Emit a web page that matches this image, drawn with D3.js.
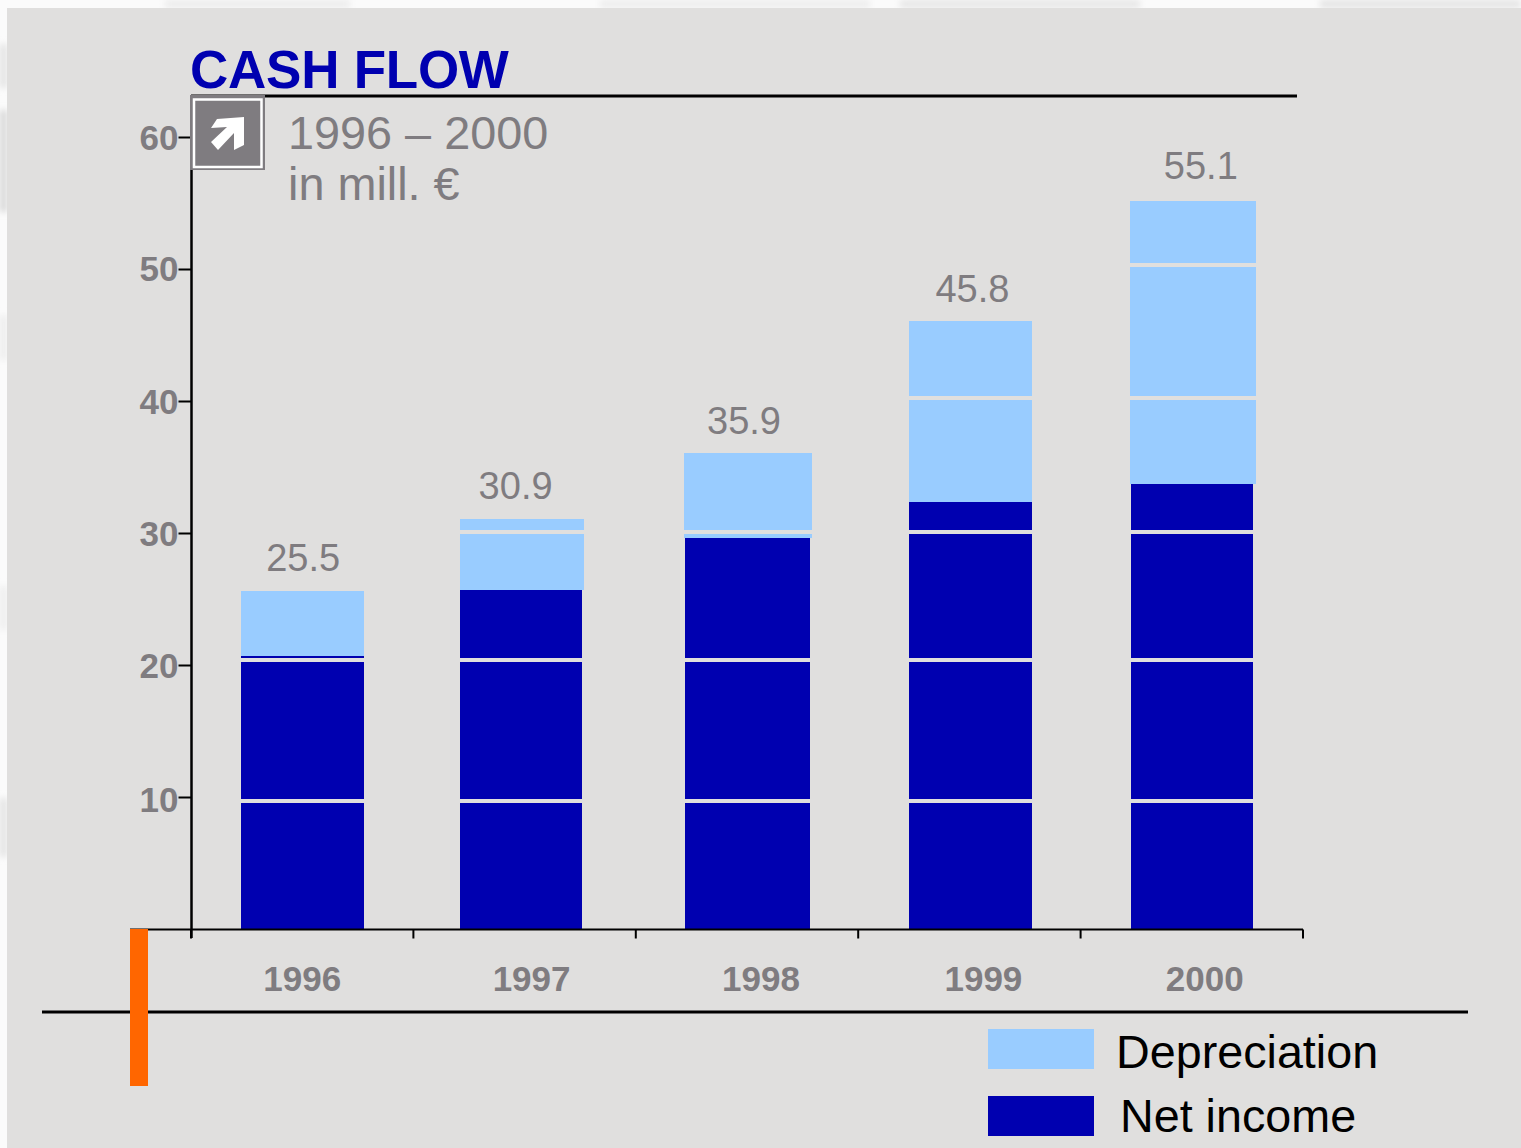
<!DOCTYPE html>
<html><head><meta charset="utf-8">
<script src="https://cdn.jsdelivr.net/npm/d3@7/dist/d3.min.js"></script>
<style>html,body{margin:0;padding:0;background:#fbfbfb;overflow:hidden}svg{display:block}text{font-family:"Liberation Sans",Arial,sans-serif}</style>
</head><body><div id="chart"></div>
<script>
const years = ["1996","1997","1998","1999","2000"];
const netIncome = [20.7,25.7,29.6,32.35,33.7];
const depreciation = [4.9,5.35,6.45,13.7,21.45];
const totalLabels = ["25.5","30.9","35.9","45.8","55.1"];
const yTicks = [10,20,30,40,50,60];
const bandLines = [9.7,20.4,30.05,40.2,50.3];
const subtitleLines = ["1996 – 2000","in mill. €"];
const seriesNames = ["Depreciation","Net income"];

// per-category layout nudges of the original artwork
const barShift = [0,-3,-1,1,1], netR = [0,-1,2,0,-1], lightL = [0,0,-1,0,-1], lightR = [0,1,4,0,2];
const valueDx = [1,-9,-3,3,9], yearDx = [0,7,14,14,13], valueGap = [20,20,19.5,19,22];
const yLabelDy = [2,0,0,0,-1,0];

const W=1521,H=1148, GREY="#7f7c80", NAVY="#0000b0", LIGHT="#99ccff", PANEL="#e0dfde";
const svg=d3.select("#chart").append("svg").attr("width",W).attr("height",H);

// faint marbled backdrop showing in the margins
const blur=svg.append("defs").append("filter").attr("id","soft").attr("x","-50%").attr("y","-50%").attr("width","200%").attr("height","200%");
blur.append("feGaussianBlur").attr("stdDeviation",3);
const blotches=[[0,44,7,44,"#e2e2e2"],[0,110,7,102,"#d6d6d6"],[0,315,7,45,"#ececec"],[0,586,7,44,"#ededed"],[0,798,7,59,"#e2e2e2"],
 [165,0,185,8,"#ececec"],[600,0,270,8,"#ededed"],[900,0,240,8,"#e6e6e6"],[1320,0,201,8,"#e4e4e4"]];
svg.append("g").attr("filter","url(#soft)").selectAll("rect").data(blotches).join("rect")
 .attr("x",d=>d[0]).attr("y",d=>d[1]).attr("width",d=>d[2]).attr("height",d=>d[3]).attr("fill",d=>d[4]);
svg.append("rect").attr("x",7).attr("y",8).attr("width",W-7).attr("height",H-8).attr("fill",PANEL);

const x=d3.scaleBand().domain(years).range([191,1303]).paddingInner(0.447).paddingOuter(0.2235);
const y=d3.scaleLinear().domain([0,60]).range([929,137]);
const bx=yr=>Math.round(x(yr)), bw=Math.round(x.bandwidth());

// bars
const rows=years.map((yr,i)=>({yr,i,net:netIncome[i],dep:depreciation[i]}));
const g=svg.append("g");
g.selectAll(".dep").data(rows).join("rect").attr("class","dep")
 .attr("x",d=>bx(d.yr)+barShift[d.i]+lightL[d.i])
 .attr("width",d=>bw-lightL[d.i]+lightR[d.i])
 .attr("y",d=>Math.round(y(d.net+d.dep))).attr("height",d=>Math.round(y(d.net))-Math.round(y(d.net+d.dep))).attr("fill",LIGHT);
g.selectAll(".net").data(rows).join("rect").attr("class","net")
 .attr("x",d=>bx(d.yr)+barShift[d.i]).attr("width",d=>bw+netR[d.i])
 .attr("y",d=>Math.round(y(d.net))).attr("height",d=>y(0)-Math.round(y(d.net))).attr("fill",NAVY);
// panel-coloured bands across the bars
rows.forEach(d=>{
  const top=d.net+d.dep;
  g.selectAll(null).data(bandLines.filter(v=>v<top)).join("rect")
   .attr("x",bx(d.yr)+barShift[d.i]+lightL[d.i]).attr("width",bw-lightL[d.i]+lightR[d.i])
   .attr("y",v=>Math.round(y(v))-2).attr("height",4).attr("fill",PANEL);
});
// value labels
svg.selectAll(".val").data(rows).join("text").attr("class","val")
 .attr("x",d=>x(d.yr)+x.bandwidth()/2+valueDx[d.i]).attr("y",d=>y(d.net+d.dep)-valueGap[d.i])
 .attr("text-anchor","middle").attr("font-size",38).attr("fill",GREY).text(d=>totalLabels[d.i]);

// axes
const yAxis=d3.axisLeft(y).tickValues(yTicks).tickSize(13).tickPadding(0).tickFormat(d3.format("d"));
const yG=svg.append("g").attr("transform","translate(191.5,0)").call(yAxis);
yG.select(".domain").remove();
yG.selectAll("line").attr("stroke","#000").attr("stroke-width",2);
yG.selectAll("text").attr("font-size",35).attr("font-weight","bold").attr("fill",GREY)
  .attr("dy","0.35em").attr("y",(d,i)=>yLabelDy[i]).attr("font-family",'"Liberation Sans"');
svg.append("line").attr("x1",191.5).attr("x2",191.5).attr("y1",y(60)-41).attr("y2",y(0)+9).attr("stroke","#000").attr("stroke-width",2.5);

const xTickScale=d3.scaleLinear().domain([0,years.length]).range([191,1303]);
const xAxis=d3.axisBottom(xTickScale).tickValues(d3.range(years.length+1)).tickSize(9).tickFormat("").offset(0);
const xG=svg.append("g").attr("transform","translate(0,929.5)").call(xAxis);
xG.select(".domain").remove();
xG.selectAll("line").attr("stroke","#000").attr("stroke-width",2);
svg.append("line").attr("x1",130).attr("x2",1303).attr("y1",929.5).attr("y2",929.5).attr("stroke","#000").attr("stroke-width",2);
svg.selectAll(".yr").data(rows).join("text").attr("class","yr")
 .attr("x",d=>x(d.yr)+x.bandwidth()/2+yearDx[d.i]).attr("y",991)
 .attr("text-anchor","middle").attr("font-size",35).attr("font-weight","bold").attr("fill",GREY).text(d=>d.yr);

// rules
svg.append("line").attr("x1",191).attr("x2",1297).attr("y1",96).attr("y2",96).attr("stroke","#000").attr("stroke-width",3);
svg.append("line").attr("x1",42).attr("x2",1468).attr("y1",1012).attr("y2",1012).attr("stroke","#000").attr("stroke-width",3);
svg.append("rect").attr("x",130).attr("y",929).attr("width",18).attr("height",157).attr("fill","#ff6600");

// title
svg.append("text").attr("x",190).attr("y",88).attr("font-size",53).attr("letter-spacing",-0.25).attr("font-weight","bold").attr("fill",NAVY).text("CASH FLOW");
svg.selectAll(".sub").data(subtitleLines).join("text").attr("class","sub")
 .attr("x",288).attr("y",(d,i)=>149+i*51).attr("font-size",46.8).attr("fill",GREY).text(d=>d);

// icon
svg.append("rect").attr("x",190).attr("y",95).attr("width",75).attr("height",75).attr("fill",GREY);
svg.append("rect").attr("x",194).attr("y",99.5).attr("width",67.5).attr("height",67.5).attr("fill",GREY).attr("stroke","#fff").attr("stroke-width",2.5);
svg.append("path").attr("d","M217 119 L244 117 L244 145 L234 150 L234 133 L218 150 L211 142 L227 127 L211 128 Z").attr("fill","#fff");

// legend
const legend=svg.selectAll(".lg").data(seriesNames).join("g").attr("class","lg");
legend.append("rect").attr("x",988).attr("y",(d,i)=>1029+i*67).attr("width",106).attr("height",40).attr("fill",(d,i)=>i?NAVY:LIGHT);
legend.append("text").attr("x",(d,i)=>i?1120:1116).attr("y",(d,i)=>1068+i*64).attr("font-size",46.7).attr("fill","#000").text(d=>d);
</script></body></html>
